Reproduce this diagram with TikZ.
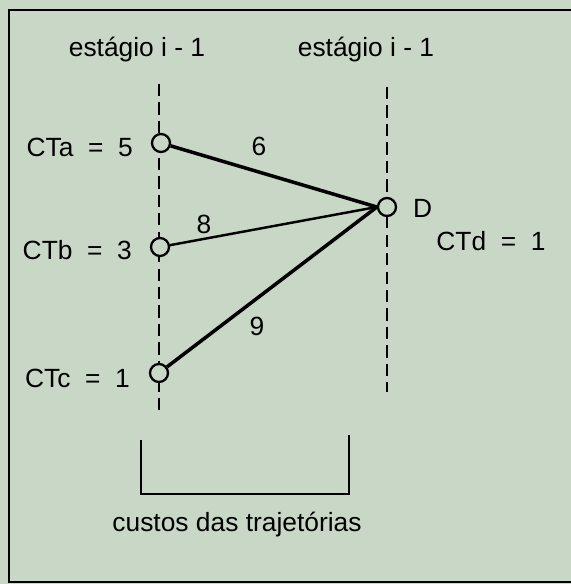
\documentclass[tikz,border=0pt]{standalone}
\usepackage{fontspec}
\setmainfont{Liberation Sans}
\usetikzlibrary{positioning}
\definecolor{paper}{RGB}{201,216,198}
\tikzset{vert/.style={circle,draw,line width=1.3pt,fill=paper,minimum size=3.6mm,inner sep=0pt},lbl/.style={font=\fontsize{15}{18}\selectfont,inner sep=1pt},edge/.style={line width=2pt},guide/.style={line width=0.7pt,dash pattern=on 7pt off 3.5pt}}
\begin{document}
\begin{tikzpicture}[x=0.2mm,y=-0.2mm]
\useasboundingbox[fill=paper](0,0) rectangle (571,584);
\draw[line width=1.6pt](571,10)--(9,10)--(9,582)--(571,582);
\node[lbl] (h1) at(137,50){estágio i - 1};
\node[lbl] (h2) at(366,50){estágio i - 1};
\coordinate (lt) at(159,84);\coordinate (lb) at(159,410);
\coordinate (rt) at(387,87);\coordinate (rb) at(387,392);
\draw[guide](lt)--(lb);
\draw[guide](rt)--(rb);
\node[vert] (a) at(161,143){};
\node[vert] (b) at(160,247){};
\node[vert] (c) at(159,373){};
\node[vert] (d) at(387,207){};
\draw[edge](a)--(d.west);
\draw[edge,line width=1.4pt](b)--(d.west);
\draw[edge](c)--(d.west);
\node[lbl,anchor=east] (ca) at(135,147){CTa\ \ =\ \ 5};
\node[lbl,anchor=east] (cb) at(134,250){CTb\ \ =\ \ 3};
\node[lbl,anchor=east] (cc) at(132,378){CTc\ \ =\ \ 1};
\node[lbl,anchor=west] (dl) at(411,208){D};
\node[lbl] (cd) at(491,241){CTd\ \ =\ \ 1};
\node[lbl] (w6) at(259,146){6};
\node[lbl] (w8) at(204,224){8};
\node[lbl] (w9) at(257,326){9};
\draw[line width=1.2pt](141,440)--(141,494)--(349,494)--(349,435);
\node[lbl] (ct) at(237,525){custos das trajetórias};
\end{tikzpicture}
\end{document}
